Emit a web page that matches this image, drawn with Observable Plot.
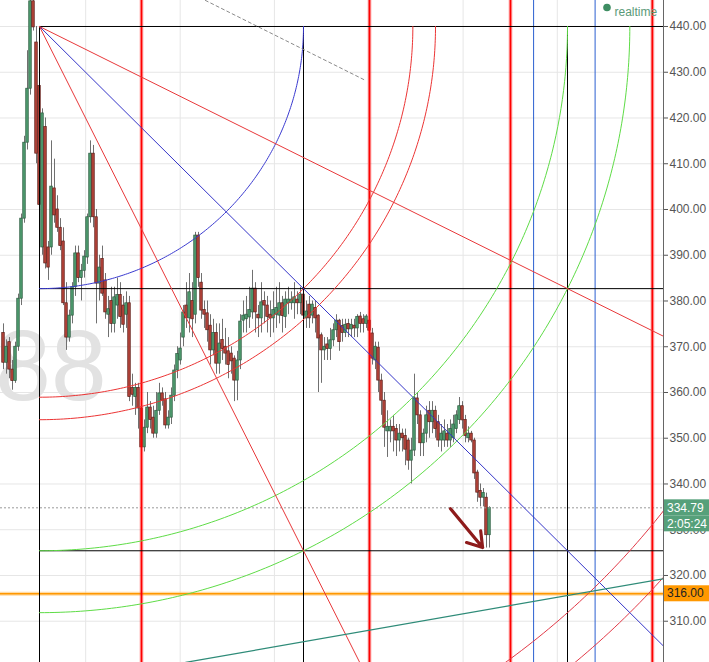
<!DOCTYPE html>
<html><head><meta charset="utf-8">
<script src="https://cdn.jsdelivr.net/npm/d3@7"></script>
<script src="https://cdn.jsdelivr.net/npm/@observablehq/plot@0.6"></script>
<style>html,body{margin:0;padding:0;background:#fff;} #chart svg{display:block}</style>
</head><body><div id="chart"></div>
<script>
// ---- candle data (bar index = position in arrays) ----
const opens = [373,366.5,371,365,362.5,370,380.5,398,414.6,426.4,445.5,436.5,427,391.7,418,391.7,391.7,404.6,400,396,393,379.5,372,376.8,383,390.4,385,386.6,389.5,398.3,412.2,398.3,383.8,389.2,384.5,377,380,375,379,381.3,379,377,379.5,361,359,361,356.5,348,352.3,356.7,354.5,351,356,359.8,358.5,352.8,354.5,359.3,364.8,367,372,379,376.2,380,377,394.3,384,378,377.3,374.6,369.2,373,366.3,371.5,370,369,368.5,367.4,362.6,367,375.7,376,376.4,377.5,382.7,377,376.2,380,379,377,376.2,377,376.8,379.5,376.5,379.5,379.5,379.5,380.3,379.5,381.4,376.2,379.2,376.8,378.5,376.8,372.5,369.2,370.5,369.5,371.4,373.6,375.7,374.5,373,375,373.8,374.6,374,376.6,376,375,375.7,372.9,367,369.8,362.6,358.2,351.5,351.5,352.5,352,349.5,351,350.5,349.5,345.1,347.3,358.7,355,348.9,351,356,353.5,356,353.5,349.5,349.5,351,349.5,350,352,354,357,354,350,351,349.5,342.5,338.5,337,337,328.8];
const highs = [375,371.5,372,367,371,381.5,399,416,434.7,446,447,440,438,422,420,393,415,411,403,398,396,384,378,384,392,392,388,391,399,415,414,400,390,392,386,381,383,383,385,384,381,382,381,364,362,362,358,354,360,358,357,360,362,361,360,356,361,366,370,373,379,384,386,384,395,395,386,380,380,377,376,375,375,376,374,372,370,368,369,377,380,381,383,386.7,384,379,384,382,381,380,382,383,384,381,382,383,382,384,382,383,383,380,381,380,380,377,373,372,372,374,375,377,376,376,376,376,376,376,377,377.5,377,377,376,374,371,371,364,360,356,354,355,353,353,352,352,350,350,364,360,356,352,357,358,358,357,355,353,354,353,354,355,356,358.9,358,355,352.5,351.5,350,343,340,339,338,335];
const lows = [365,364,363,360.5,362,369,379,397,413,425,439,410,399,390,387,384.5,390,397,395,391,379,369.2,371,375,381,384,380,385,388,397,396,375,380,381,376,372,373,373,376,374,373,374,358,357,355,352,347.5,347,351,352,350,350,355,357,352,352,353,358,363,366,370,374,373,372,375,383,376,374,371,366,368,364,364,367,366,363,364,358,358.2,365,373,373,374,376,373,372,373,375,373,372,373,374,375,373,374,377,378,376,377,377,374,374,374,375,373,360,362,367,367,367,370,372,369,371,372,372,372,372,372,373,373,374,372,366,365,360,355,348,345.8,349,347,346,347,347,344,343,340,346,353,346,346,349,350,351,350,348,347,348,348,348,349,351,353,352,349,349,349,341,336,335,335,326,326];
const closes = [366.5,370,365,362.5,370,380.5,398,414.6,426.4,445.5,439.8,412.2,401,421,388.2,387.3,405,398.7,396,392,379.5,372,376.8,383,390.4,385,386.6,389.7,398.3,412.2,398.3,383.8,387.3,381.6,377.5,378.2,375,380.8,381.3,376.5,374.8,379.5,359,359.5,361,356.5,348,352.3,356.7,354,351,356,359.8,358.2,352.8,354.5,359.3,364.8,368.4,369.6,377.5,376.2,381.9,376,394.3,385,377.9,377,373.6,369.2,373,366.3,370.7,369.5,368.5,366,366.8,362.6,367,375.5,376.8,377,378,382.7,377.5,376.2,379.7,379,376.5,376.2,378,378.5,379.5,376.7,380.3,380.3,380.3,380.8,379.5,381.4,376.8,377.7,376.2,379.2,376.2,371.8,369.2,370,369.5,371.4,373.6,375.7,371,373,374.8,373.8,374.8,374,376.5,375,375,376.6,373.5,367.4,370,362.6,358.2,352.3,352.5,352.5,351.5,349.5,351,350,347.5,345.1,347.3,358.7,355,348.9,351,355,353.5,356,352,349.5,351,351.5,349.5,352,353,355,357,353.9,350.5,351,349.5,342.3,338.1,337,338,328.8,334.79];

// ---- axis / grid values ----
const priceTicks = [310,320,330,340,350,360,370,380,390,400,410,420,430,440];
const timeGrid = [27.4,58.9,90.3,121.7,153.2,184.6,216];

// ---- Gann square drawing ----
const pivotT = 12, pivotP = 440;      // anchor (bar, price)
const boxT = 88, boxP = 57.3;         // one square: bars x price
const rightT = 220;                   // right edge of price area (bar units)
const fanRatios = [0.5, 1, 2];
const fanColors = ["#e8383a", "#3535c8", "#e8383a"];
const arcRadii = [1, Math.SQRT2, 1.5, 2, Math.sqrt(5), 3, Math.sqrt(10)];
const arcColors = ["#3a3ad0", "#ec3434", "#ec3434", "#5edc46", "#5edc46", "#e23a48", "#e23a48"];
const boxLevels = [0, 1, 2];

// ---- other drawings ----
const redCycles = [46, 122, 169, 216.3];
const blueCycles = [176.7, 197.2];
const supportLevel = 316;
const lastClose = 334.79;
const timerText = "2:05:24";
const dashedTrend = [{t: 67.3, v: 445.7}, {t: 120.7, v: 428.2}];
const tealTrend = [{t: 60.7, v: 301.0}, {t: 220, v: 319.3}];
const arrowPts = [{t1: 149, v1: 334.6, t2: 159.7, v2: 326.1}];

const candles = opens.map((o, i) => ({t: i, o, h: highs[i], l: lows[i], c: closes[i]}));

const fanData = fanRatios.flatMap((r, k) => [
  {k, t: pivotT, v: pivotP},
  {k, t: rightT + 10, v: pivotP - boxP * r * (rightT + 10 - pivotT) / boxT}
]);
const thetas = d3.range(0, 90.01, 0.5).map(a => a * Math.PI / 180);
const arcData = arcRadii.flatMap((r, k) => thetas.map(th => ({
  k, t: pivotT + boxT * r * Math.cos(th), v: pivotP - boxP * r * Math.sin(th)
})));

const up = c => c.c >= c.o;

const plot = Plot.plot({
  width: 709, height: 662,
  marginLeft: 0, marginRight: 46, marginTop: 0, marginBottom: 0,
  style: {fontFamily: "'Liberation Sans', Arial, sans-serif", fontSize: "12px", background: "#fff"},
  x: {domain: [-1, 220], axis: null},
  y: {domain: [300.98, 445.68], axis: null},
  marks: [
    Plot.ruleY(priceTicks, {stroke: "#e6e6e6", strokeWidth: 1}),
    Plot.ruleX(timeGrid, {stroke: "#e6e6e6", strokeWidth: 1}),
    Plot.text(["88"], {frameAnchor: "top-left", dx: 106, dy: 367, textAnchor: "end", lineAnchor: "middle",
      fontSize: 100, fill: "#e2e2e2"}),
    // candles
    Plot.ruleX(candles, {x: "t", y1: "l", y2: "h", stroke: "#707070", strokeWidth: 1}),
    Plot.rect(candles, {x1: d => d.t - 0.42, x2: d => d.t + 0.42, y1: "o", y2: "c",
      fill: d => up(d) ? "#4f9a6e" : "#b3443a", stroke: d => up(d) ? "#2a5a3e" : "#5c1d17", strokeWidth: 0.7}),
    // last price dotted line + support
    Plot.ruleY([lastClose], {stroke: "#9a9a9a", strokeDasharray: "2,2"}),
    Plot.ruleY([supportLevel], {stroke: "#ffb84d", strokeWidth: 4, strokeOpacity: 0.5}),
    Plot.ruleY([supportLevel], {stroke: "#ff9800", strokeWidth: 1.6}),
    // cycle verticals
    Plot.ruleX(redCycles, {stroke: "#ff3030", strokeWidth: 4, strokeOpacity: 0.3}),
    Plot.ruleX(redCycles, {stroke: "#ff0000", strokeWidth: 1.8}),
    Plot.ruleX(blueCycles, {stroke: "#2a5fd0", strokeWidth: 1}),
    // Gann box lines
    Plot.ruleY(boxLevels, {y: d => pivotP - boxP * d, x1: () => pivotT, x2: () => rightT, stroke: "#000", strokeWidth: 1}),
    Plot.ruleX(boxLevels, {x: d => pivotT + boxT * d, y1: () => pivotP, y2: () => 300.98, stroke: "#000", strokeWidth: 1}),
    // arcs and fans
    Plot.line(arcData, {x: "t", y: "v", z: "k", stroke: d => arcColors[d.k], strokeWidth: 1, clip: true}),
    Plot.line(fanData, {x: "t", y: "v", z: "k", stroke: d => fanColors[d.k], strokeWidth: 1, clip: true}),
    // other trend lines
    Plot.line(dashedTrend, {x: "t", y: "v", stroke: "#8a8a8a", strokeDasharray: "3,3", strokeWidth: 1, clip: true}),
    Plot.line(tealTrend, {x: "t", y: "v", stroke: "#2e8b78", strokeWidth: 1.2, clip: true}),
    Plot.arrow(arrowPts, {x1: "t1", y1: "v1", x2: "t2", y2: "v2", stroke: "#8e1b1b", strokeWidth: 3.2,
      headLength: 15, headAngle: 66}),
    // right axis
    Plot.ruleX([rightT], {stroke: "#666", strokeWidth: 1}),
    Plot.axisY(priceTicks, {anchor: "right", tickFormat: d => d.toFixed(2), tickSize: 4, tickPadding: 2,
      fontSize: 12, color: "#555", label: null}),
    // realtime legend
    Plot.dot([0], {frameAnchor: "top-right", dx: -56.5, dy: 7, r: 3.8, fill: "#3e8d62", stroke: null}),
    Plot.text(["realtime"], {frameAnchor: "top-right", dx: -49, dy: 7, textAnchor: "start", fill: "#5a9a78", fontSize: 12})
  ]
});

// price tags on the axis, positioned by the plot's own y scale
const ys = plot.scale("y");
const svg = d3.select(plot);
const g = svg.append("g").attr("font-family", "'Liberation Sans', Arial, sans-serif")
  .attr("font-size", 12).attr("text-anchor", "start");
function tag(yc, label, fill, color) {
  g.append("rect").attr("x", 664).attr("y", yc - 8).attr("width", 45).attr("height", 16).attr("fill", fill);
  g.append("text").attr("x", 667).attr("y", yc).attr("dy", "0.35em").attr("text-anchor", "start")
    .attr("fill", color).text(label);
}
const yl = ys.apply(lastClose);
tag(yl, lastClose.toFixed(2), "#56a07a", "#fff");
tag(yl + 16, timerText, "#56a07a", "#fff");
tag(ys.apply(supportLevel), supportLevel.toFixed(2), "#ff9800", "#222");

document.getElementById("chart").appendChild(plot);
</script>
</body></html>
